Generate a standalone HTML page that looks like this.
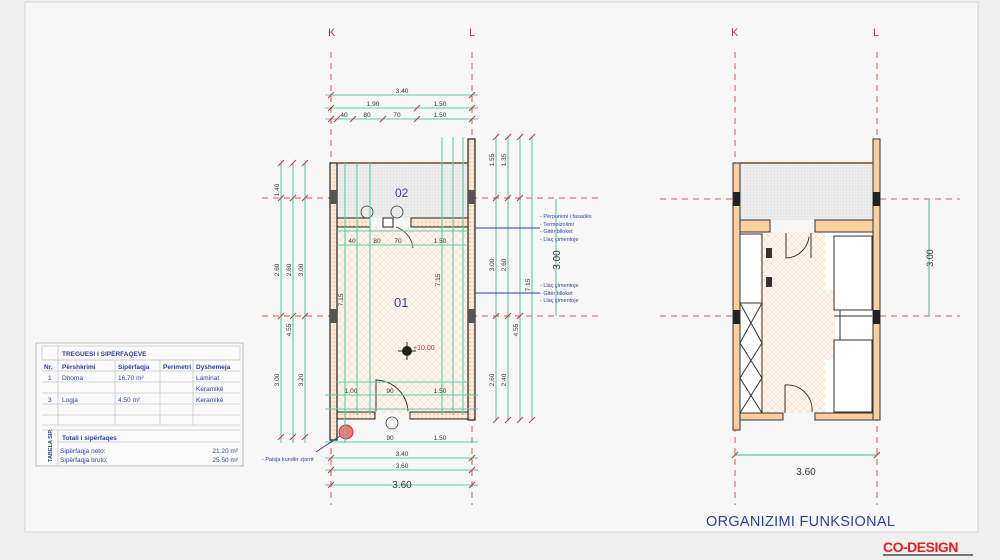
<!DOCTYPE html>
<html><head><meta charset="utf-8"><style>
html,body{margin:0;padding:0;background:#efefef;}
svg{display:block;font-family:"Liberation Sans",sans-serif;}
</style></head><body>
<svg width="1000" height="560" viewBox="0 0 1000 560" xmlns="http://www.w3.org/2000/svg">
<defs>
<pattern id="grid" width="3" height="3" patternUnits="userSpaceOnUse">
<rect width="3" height="3" fill="#eeeeee"/><path d="M0 0H3M0 0V3" stroke="#d6d6d6" stroke-width="0.5"/>
</pattern>
<pattern id="herr" width="8" height="8" patternUnits="userSpaceOnUse">
<rect width="8" height="8" fill="#fdf6ef"/><path d="M0 4L4 0M4 8L8 4M0 4L4 8M4 0L8 4" stroke="#f6dcc4" stroke-width="0.6"/>
</pattern>
<pattern id="wallp" width="4" height="4" patternUnits="userSpaceOnUse">
<rect width="4" height="4" fill="#fbe9d6"/><circle cx="2" cy="2" r="0.7" fill="#eab07a"/>
</pattern>
</defs>
<rect x="0" y="0" width="1000" height="560" fill="#efefef"/>
<rect x="25" y="2" width="953" height="530" fill="#f7f7f7" stroke="#d6d6d6"/>

<g fill="#c0393b" font-size="11">
<text x="328" y="36">K</text><text x="469" y="36">L</text>
<text x="731" y="36">K</text><text x="873" y="36">L</text>
</g>
<g stroke="#d0565a" stroke-width="1" stroke-dasharray="6,5" fill="none">
<path d="M331 52V505M472 52V505M735 52V505M877 52V505"/>
<path d="M262 198H600M262 316H600M660 199H960M660 316H960"/>
</g>

<!-- LEFT PLAN -->
<rect x="337" y="163" width="131" height="55" fill="url(#grid)"/>
<rect x="337" y="227" width="131" height="186" fill="url(#herr)"/>
<text x="395" y="197" fill="#2f3fa0" font-size="12">02</text>
<text x="394" y="307" fill="#2f3fa0" font-size="13">01</text>
<rect x="330" y="163" width="7" height="277" fill="url(#wallp)" stroke="#222" stroke-width="1.2"/>
<rect x="468" y="139" width="7" height="281" fill="url(#wallp)" stroke="#222" stroke-width="1.2"/>
<rect x="337" y="218" width="33" height="9" fill="url(#wallp)" stroke="#222"/>
<rect x="383" y="218" width="10" height="9" fill="#fff" stroke="#222"/>
<rect x="411" y="218" width="57" height="9" fill="url(#wallp)" stroke="#222"/>
<rect x="337" y="412" width="38" height="7" fill="url(#wallp)" stroke="#222"/>
<rect x="410" y="412" width="58" height="7" fill="url(#wallp)" stroke="#222"/>
<path d="M337 163H468" stroke="#7a4a1a" stroke-width="1.5"/>
<rect x="330" y="190" width="7" height="14" fill="#555"/><rect x="468" y="190" width="7" height="14" fill="#555"/>
<rect x="330" y="309" width="7" height="14" fill="#555"/><rect x="468" y="309" width="7" height="14" fill="#555"/>
<path d="M376 411V380A33 33 0 0 1 408 411" fill="none" stroke="#333"/>
<path d="M396 227A25 25 0 0 1 413 248" fill="none" stroke="#333" stroke-width="0.8"/>
<circle cx="407" cy="351" r="5" fill="#222"/><path d="M398 351H416M407 342V360" stroke="#222"/>
<text x="413" y="350" font-size="7" fill="#c0393b">+10.00</text>
<circle cx="346" cy="432" r="7" fill="#f07a7a" stroke="#c33"/>
<g fill="none" stroke="#333" stroke-width="0.8"><circle cx="367" cy="212" r="6"/><circle cx="397" cy="212" r="6"/><circle cx="392" cy="423" r="6"/></g>

<g stroke="#5cc9b0" stroke-width="1.1" fill="none">
<path d="M325 95H478M325 108H478M325 119H478"/>
<path d="M325 395H478M325 409H478M325 442H478M325 458H478M325 470H478M325 485H478"/>
<path d="M281 163V443M293 163V443M305 163V443"/>
<path d="M496 137V420M508 137V420M520 137V420M532 137V420M556 199V316"/>
<path d="M345 163V443M357 163V415M370 163V415M442 137V415M453 137V415M463 137V415"/>
<path d="M337 245H468M337 231H468M337 382H468"/>
</g>
<g stroke="#c0393b" stroke-width="1">
<path d="M328 98l6-6M469 98l6-6M328 111l6-6M469 111l6-6M328 122l6-6M469 122l6-6M414 111l6-6M334 122l6-6M350 122l6-6M380 122l6-6M414 122l6-6"/>
<path d="M278 166l6-6M290 166l6-6M302 166l6-6M278 201l6-6M290 201l6-6M302 201l6-6M278 319l6-6M290 319l6-6M302 319l6-6M278 440l6-6M290 440l6-6M302 440l6-6"/>
<path d="M493 140l6-6M505 140l6-6M517 140l6-6M529 140l6-6M493 201l6-6M505 201l6-6M517 201l6-6M493 319l6-6M505 319l6-6M517 319l6-6M493 423l6-6M505 423l6-6M517 423l6-6M529 423l6-6"/>
<path d="M328 488l6-6M469 488l6-6M328 473l6-6M469 473l6-6M328 461l6-6M469 461l6-6"/>
</g>
<g font-size="6.5" fill="#333" text-anchor="middle">
<text x="402" y="93">3.40</text><text x="373" y="106">1.90</text><text x="440" y="106">1.50</text>
<text x="344" y="117">40</text><text x="367" y="117">80</text><text x="397" y="117">70</text><text x="440" y="117">1.50</text>
<text x="352" y="243">40</text><text x="377" y="243">80</text><text x="398" y="243">70</text><text x="440" y="243">1.50</text>
<text x="351" y="393">1.00</text><text x="390" y="393">90</text><text x="440" y="393">1.50</text>
<text x="402" y="456">3.40</text><text x="402" y="468">3.60</text><text x="390" y="440">90</text><text x="440" y="440">1.50</text>
</g>
<text x="402" y="488" font-size="10" fill="#333" text-anchor="middle">3.60</text>
<g font-size="6.5" fill="#333" text-anchor="middle">
<text transform="translate(279,190)rotate(-90)">1.40</text><text transform="translate(279,270)rotate(-90)">2.60</text><text transform="translate(279,380)rotate(-90)">3.00</text>
<text transform="translate(291,270)rotate(-90)">2.60</text><text transform="translate(303,270)rotate(-90)">3.00</text>
<text transform="translate(291,330)rotate(-90)">4.55</text><text transform="translate(303,380)rotate(-90)">3.20</text>
<text transform="translate(494,160)rotate(-90)">1.55</text><text transform="translate(506,160)rotate(-90)">1.35</text>
<text transform="translate(494,265)rotate(-90)">3.00</text><text transform="translate(506,265)rotate(-90)">2.60</text>
<text transform="translate(530,285)rotate(-90)">7.15</text><text transform="translate(518,330)rotate(-90)">4.55</text>
<text transform="translate(494,380)rotate(-90)">2.60</text><text transform="translate(506,380)rotate(-90)">2.40</text>
<text transform="translate(343,300)rotate(-90)">7.15</text><text transform="translate(440,280)rotate(-90)">7.15</text>
</g>
<text transform="translate(560,260)rotate(-90)" font-size="10" fill="#333" text-anchor="middle">3.00</text>
<g stroke="#2f3fa0" stroke-width="1" fill="none"><path d="M475 228H540M475 293H540M316 452L340 436"/></g>
<g font-size="5.5" fill="#2f3fa0">
<text x="540" y="218">- Përpunimi i fasadës</text><text x="540" y="226">- Termoizolimi</text><text x="540" y="233">- Gitër blloket</text><text x="540" y="241">- Llaç çimentoje</text>
<text x="540" y="287">- Llaç çimentoje</text><text x="540" y="295">- Gitër blloket</text><text x="540" y="302">- Llaç çimentoje</text>
<text x="262" y="461">- Paisja kundër zjarrit</text>
</g>

<!-- RIGHT PLAN -->
<rect x="740" y="163" width="133" height="57" fill="url(#grid)"/>
<rect x="740" y="232" width="133" height="181" fill="#fff"/>
<path d="M760 232H825V290H835V360H825V413H760Z" fill="url(#herr)"/>
<rect x="733" y="163" width="7" height="267" fill="#f9cfa0" stroke="#333"/>
<rect x="873" y="139" width="7" height="281" fill="#f9cfa0" stroke="#333"/>
<rect x="740" y="220" width="30" height="12" fill="#f9cfa0" stroke="#333"/>
<rect x="815" y="220" width="58" height="12" fill="#f9cfa0" stroke="#333"/>
<rect x="740" y="413" width="43" height="7" fill="#f9cfa0" stroke="#333"/>
<rect x="815" y="413" width="58" height="7" fill="#f9cfa0" stroke="#333"/>
<path d="M740 163H873" stroke="#7a4a1a" stroke-width="1.5"/>
<rect x="733" y="192" width="7" height="14" fill="#222"/><rect x="873" y="192" width="7" height="14" fill="#222"/>
<rect x="733" y="310" width="7" height="14" fill="#222"/><rect x="873" y="310" width="7" height="14" fill="#222"/>
<g fill="none" stroke="#333" stroke-width="1">
<rect x="740" y="234" width="22" height="69"/><rect x="740" y="303" width="22" height="110"/>
<path d="M740 303L762 343M762 303L740 343M740 343L762 378M762 343L740 378M740 378L762 413M762 378L740 413"/>
<rect x="834" y="236" width="38" height="74"/><rect x="834" y="340" width="38" height="72"/>
<path d="M834 316H872M840 310V340"/>
<path d="M786 233V258A24 24 0 0 0 809 237M785 413V385A25 25 0 0 1 812 412"/>
<path d="M811 233V258"/>
</g>
<g fill="#333"><rect x="766" y="248" width="6" height="10"/><rect x="766" y="277" width="6" height="10"/></g>
<path d="M929 199V316" stroke="#5cc9b0" stroke-width="1.2"/>
<text transform="translate(933,258)rotate(-90)" font-size="9" fill="#333" text-anchor="middle">3.00</text>
<path d="M735 455H877" stroke="#5cc9b0" stroke-width="1.2"/>
<path d="M732 458l6-6M874 458l6-6" stroke="#c0393b"/>
<text x="806" y="475" font-size="10" fill="#333" text-anchor="middle">3.60</text>
<text x="706" y="526" font-size="14.5" fill="#2f3fa0" letter-spacing="0.3">ORGANIZIMI FUNKSIONAL</text>

<!-- TABLE -->
<g font-size="6.5" fill="#2f3fa0">
<rect x="36" y="343" width="207" height="123" fill="#fafafa" stroke="#bbb"/>
<g stroke="#c8c8c8" fill="none" stroke-width="0.8">
<rect x="42" y="346" width="198" height="14"/><path d="M58 346V425M42 360H240M42 371H240M42 382H240M42 393H240M42 404H240M42 415H240M42 425H240M115 360V425M160 360V425M193 360V425M58 430V465M42 430H240M58 442H240"/>
</g>
<text x="62" y="356" font-weight="bold">TREGUESI I SIPËRFAQEVE</text>
<text x="44" y="369" font-weight="bold">Nr.</text><text x="62" y="369" font-weight="bold">Përshkrimi</text><text x="118" y="369" font-weight="bold">Sipërfaqja</text><text x="163" y="369" font-weight="bold">Perimetri</text><text x="196" y="369" font-weight="bold">Dyshemeja</text>
<text x="48" y="380">1</text><text x="62" y="380">Dhoma</text><text x="118" y="380">16.70 m²</text><text x="196" y="380">Laminat</text>
<text x="196" y="391">Keramikë</text>
<text x="48" y="402">3</text><text x="62" y="402">Logja</text><text x="118" y="402">4.50 m²</text><text x="196" y="402">Keramikë</text>
<text x="62" y="440" font-weight="bold">Totali i sipërfaqes</text>
<text x="60" y="453">Sipërfaqja neto:</text><text x="238" y="453" text-anchor="end">21.20 m²</text>
<text x="60" y="462">Sipërfaqja bruto:</text><text x="238" y="462" text-anchor="end">25.50 m²</text>
<text transform="translate(52,462)rotate(-90)" font-size="5.5" font-weight="bold">TABELA SIP.</text>
</g>

<text x="883" y="552" font-size="14" font-weight="bold" fill="#e0201e" letter-spacing="-0.5">CO-DESIGN</text>
<rect x="883" y="554" width="90" height="2" fill="#777"/>
</svg>
</body></html>
